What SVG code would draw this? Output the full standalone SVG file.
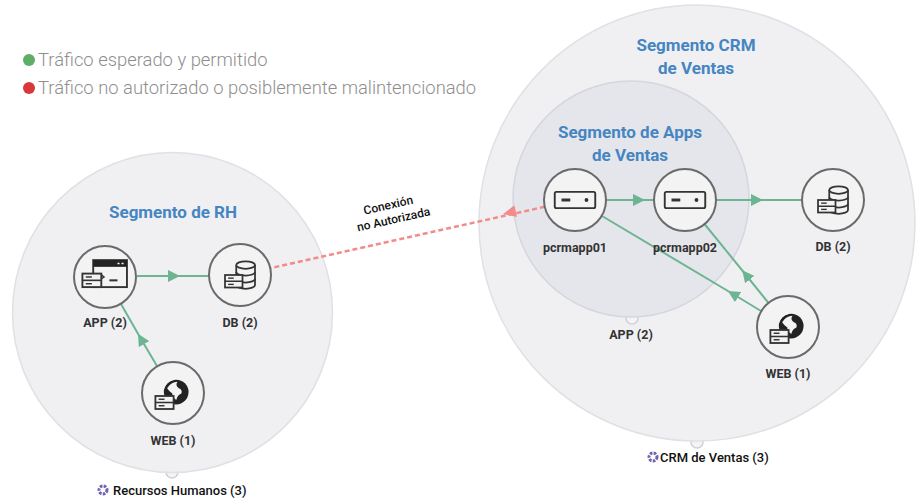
<svg xmlns="http://www.w3.org/2000/svg" width="920" height="499" viewBox="0 0 920 499">
<style>
  .seg{fill:#f0f0f3;stroke:#e0e0e5;stroke-width:1.5}
  .segin{fill:#e5e6eb;stroke:#d5d6de;stroke-width:1.5}
  .handle{fill:#f4f4f6;stroke:#cfd0d6;stroke-width:1.5}
  .node{fill:#f3f3f4;stroke:#6a6a6a;stroke-width:2}
  .title{font-family:Roboto,"Liberation Sans",sans-serif;font-weight:700;font-size:17px;fill:#4585c2;text-anchor:middle}
  .lbl{font-family:Roboto,"Liberation Sans",sans-serif;font-weight:700;font-size:12.5px;fill:#333;text-anchor:middle}
  .legend{font-family:Roboto,"Liberation Sans",sans-serif;font-weight:300;font-size:18.4px;fill:#8e8e8e}
  .grp{font-family:Roboto,"Liberation Sans",sans-serif;font-weight:500;font-size:13px;fill:#111}
  .conn{font-family:Roboto,"Liberation Sans",sans-serif;font-weight:500;font-size:12px;fill:#111;text-anchor:middle}
  .ok{fill:none;stroke:#6db592;stroke-width:2;marker-mid:url(#ag)}
  .bad{fill:none;stroke:#f28b8b;stroke-width:2.5;stroke-dasharray:5 3}
  .ic{fill:#f3f3f4;stroke:#333;stroke-width:1.4}
  .gear{fill:#fff;stroke:#6f62b3;stroke-width:3;stroke-dasharray:2.6 1.2}
</style>
<defs>
  <marker id="ag" viewBox="0 0 10 10" refX="5" refY="5" markerWidth="6" markerHeight="6" orient="auto" markerUnits="strokeWidth">
    <path d="M0,0 L10,5 L0,10 z" fill="#6db592"/>
  </marker>
  <g id="ss">
    <rect class="ic" x="0" y="0" width="14" height="10"/>
    <line x1="0" y1="5" x2="14" y2="5" stroke="#333" stroke-width="1.2"/>
    <line x1="2.5" y1="2.5" x2="7" y2="2.5" stroke="#333" stroke-width="1.1"/>
    <line x1="2.5" y1="7.5" x2="7" y2="7.5" stroke="#333" stroke-width="1.1"/>
  </g>
  <g id="srv">
    <rect class="ic" x="-15" y="-6" width="30" height="12" rx="1.2" stroke-width="1.6"/>
    <line x1="-10" y1="0" x2="-3.5" y2="0" stroke="#333" stroke-width="2.2"/>
    <circle cx="8.5" cy="0" r="1.4" fill="#333"/>
  </g>
  <g id="db">
    <path class="ic" d="M-3,-8 v16 a7.5,3 0 0 0 15,0 v-16"/>
    <ellipse class="ic" cx="4.5" cy="-8" rx="7.5" ry="3"/>
    <path d="M-3,-2.5 a7.5,3 0 0 0 15,0 M-3,3 a7.5,3 0 0 0 15,0" fill="none" stroke="#333" stroke-width="1.4"/>
    <use href="#ss" x="-12" y="0"/>
  </g>
  <g id="web">
    <circle cx="4" cy="-3" r="9.5" fill="#222"/>
    <path d="M-3,-6 q3,-5 8,-5 q-2,3 1,5 q3,1 2,4 q-3,1 -4,5 q-3,-2 -3,-5 q-2,-1 -4,-4z" fill="#f3f3f4"/>
    <path d="M-6,-6 a11,11 0 0 1 8,-7" fill="none" stroke="#f3f3f4" stroke-width="1.5"/>
    <use href="#ss" x="-12" y="0"/>
  </g>
  <g id="app">
    <rect class="ic" x="-8" y="-14" width="25" height="20"/>
    <rect x="-8" y="-14" width="25" height="5" fill="#222"/>
    <path d="M10,-11.5 h1.5 M13,-11.5 h1.5" stroke="#fff" stroke-width="1"/>
    <line x1="4" y1="1" x2="10" y2="1" stroke="#333" stroke-width="1.5"/>
    <path d="M-2,-3 l2,1.5 l-2,1.5" fill="none" stroke="#333" stroke-width="1.1"/>
    <use href="#ss" x="-16" y="-4"/>
  </g>
</defs>

<rect width="920" height="499" fill="#ffffff"/>

<!-- legend -->
<g id="legend">
  <circle cx="29" cy="60" r="6" fill="#5fae66"/>
  <text class="legend" x="38" y="66">Tráfico esperado y permitido</text>
  <circle cx="29" cy="88" r="6" fill="#d8383a"/>
  <text class="legend" x="38" y="94">Tráfico no autorizado o posiblemente malintencionado</text>
</g>

<!-- segments -->
<g id="seg-rh">
  <circle class="handle" cx="172" cy="472" r="6"/>
  <circle class="seg" cx="172.5" cy="312.5" r="160"/>
  <text class="title" x="173" y="218">Segmento de RH</text>
  <circle class="gear" cx="103" cy="490" r="4"/>
  <text class="grp" x="113" y="495">Recursos Humanos (3)</text>
</g>
<g id="seg-crm">
  <circle class="handle" cx="697" cy="442" r="6"/>
  <circle class="seg" cx="697" cy="223" r="218"/>
  <text class="title" x="696" y="51">Segmento CRM</text>
  <text class="title" x="696" y="74">de Ventas</text>
  <circle class="gear" cx="653" cy="457" r="4"/>
  <text class="grp" x="660" y="462">CRM de Ventas (3)</text>
</g>
<g id="seg-apps">
  <circle class="handle" cx="632" cy="318" r="6"/>
  <circle class="segin" cx="631" cy="199" r="118"/>
  <text class="title" x="630" y="138">Segmento de Apps</text>
  <text class="title" x="630" y="161">de Ventas</text>
  <text class="lbl" x="631" y="339">APP (2)</text>
</g>

<!-- connectors -->
<g id="connectors">
  <path class="ok" d="M137,276 L174,276 L209,276"/>
  <path class="ok" d="M157,366 L141,339 L121,304"/>
  <path class="ok" d="M606,200 L639,200 L654,200"/>
  <path class="ok" d="M716,200 L757,200 L802,200"/>
  <path class="ok" d="M761,311 L733,294 L602,216"/>
  <path class="ok" d="M768.5,303 L746,275 L704.5,224"/>
  <path class="bad" d="M544.7,206.8 L271,268"/>
  <path d="M0,0 L13,-6 L13,6 z" fill="#f28b8b" transform="translate(503,214) rotate(-12.7)"/>
  <g transform="translate(390,213) rotate(-12.7)">
    <text class="conn" x="0" y="-4">Conexión</text>
    <text class="conn" x="2" y="11">no Autorizada</text>
  </g>
</g>

<!-- nodes -->
<g id="rh-app">
  <circle class="node" cx="105" cy="277" r="31"/>
  <use href="#app" transform="translate(104,279) scale(1.35)"/>
  <text class="lbl" x="105" y="327">APP (2)</text>
</g>
<g id="rh-db">
  <circle class="node" cx="240" cy="275" r="31"/>
  <use href="#db" transform="translate(240,275) scale(1.25)"/>
  <text class="lbl" x="240" y="327">DB (2)</text>
</g>
<g id="rh-web">
  <circle class="node" cx="173" cy="393" r="31"/>
  <use href="#web" transform="translate(171,396) scale(1.3)"/>
  <text class="lbl" x="173" y="445">WEB (1)</text>
</g>
<g id="pcrmapp01">
  <circle class="node" cx="575" cy="200" r="31"/>
  <use href="#srv" transform="translate(575,200) scale(1.35)"/>
  <text class="lbl" x="575" y="252">pcrmapp01</text>
</g>
<g id="pcrmapp02">
  <circle class="node" cx="685" cy="200" r="31"/>
  <use href="#srv" transform="translate(685,200) scale(1.35)"/>
  <text class="lbl" x="685" y="252">pcrmapp02</text>
</g>
<g id="crm-db">
  <circle class="node" cx="833" cy="200" r="31"/>
  <use href="#db" transform="translate(833,200) scale(1.25)"/>
  <text class="lbl" x="833" y="251">DB (2)</text>
</g>
<g id="crm-web">
  <circle class="node" cx="788" cy="327" r="31"/>
  <use href="#web" transform="translate(786,330) scale(1.3)"/>
  <text class="lbl" x="788" y="378">WEB (1)</text>
</g>
</svg>
